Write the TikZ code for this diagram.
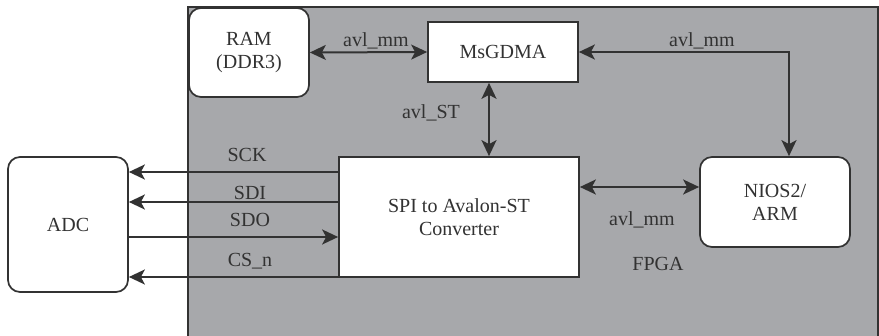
\documentclass[tikz,border=0pt]{standalone}
\usepackage{fontspec}
\setmainfont{Liberation Serif}
\usetikzlibrary{arrows.meta,positioning,calc}
\definecolor{fpgagray}{RGB}{167,168,171}
\definecolor{ink}{RGB}{50,50,50}
\tikzset{
  blok/.style={draw=ink,line width=1.7pt,fill=white,align=center,text=ink,inner sep=2pt},
  rblok/.style={blok,rounded corners=12pt},
  bus/.style={draw=ink,line width=2pt,{Stealth[length=16pt,width=15pt,inset=4pt]}-{Stealth[length=16pt,width=15pt,inset=4pt]}},
  sig/.style={draw=ink,line width=2pt,-{Stealth[length=16pt,width=15pt,inset=4pt]}},
  lbl/.style={text=ink},
}

\begin{document}
\begin{tikzpicture}[x=1pt,y=-1pt,font=\fontsize{20}{23}\selectfont]
  \useasboundingbox (0,0) rectangle (879,336);
  % FPGA area
  \fill[fpgagray,draw=ink,line width=1.2pt] (188,7) rectangle (878,337);
  % blocks
  \node[rblok,minimum width=120pt,minimum height=89pt] (ram) at (249,52.5) {RAM\\(DDR3)};
  \node[blok,minimum width=150pt,minimum height=60pt] (dma) at (503,52) {MsGDMA};
  \node[blok,minimum width=240pt,minimum height=120pt] (spi) at (459,217) {SPI to Avalon-ST\\Converter};
  \node[rblok,minimum width=150pt,minimum height=90pt] (nios) at (775,202) {NIOS2/\\ARM};
  \node[rblok,minimum width=120pt,minimum height=135pt] (adc) at (68,224.5) {ADC};
  % avalon links
  \draw[bus] (ram.east) -- (dma.west);
  \draw[bus] (dma.east) -| ([xshift=14pt]nios.north);
  \draw[bus] ([xshift=-14pt]dma.south) -- ([xshift=-14pt]dma.south |- spi.north);
  \draw[bus] (spi.east |- 0,187) -- (nios.west |- 0,187);
  % SPI lines
  \draw[sig] (spi.west |- 0,172) -- (adc.east |- 0,172);
  \draw[sig] (spi.west |- 0,202) -- (adc.east |- 0,202);
  \draw[sig] (adc.east |- 0,237) -- (spi.west |- 0,237);
  \draw[sig] (spi.west |- 0,277) -- (adc.east |- 0,277);
  % labels
  \node[lbl] (lmm1) at (376,41) {avl\_mm};
  \node[lbl] (lmm2) at (702,41) {avl\_mm};
  \node[lbl] (lst) at (431,113) {avl\_ST};
  \node[lbl] (lmm3) at (642,220) {avl\_mm};
  \node[lbl] (lsck) at (247,155) {SCK};
  \node[lbl] (lsdi) at (250,193) {SDI};
  \node[lbl] (lsdo) at (250,220) {SDO};
  \node[lbl] (lcs) at (250,261) {CS\_n};
  \node[lbl] (lfpga) at (658,264) {FPGA};
\end{tikzpicture}
\end{document}
